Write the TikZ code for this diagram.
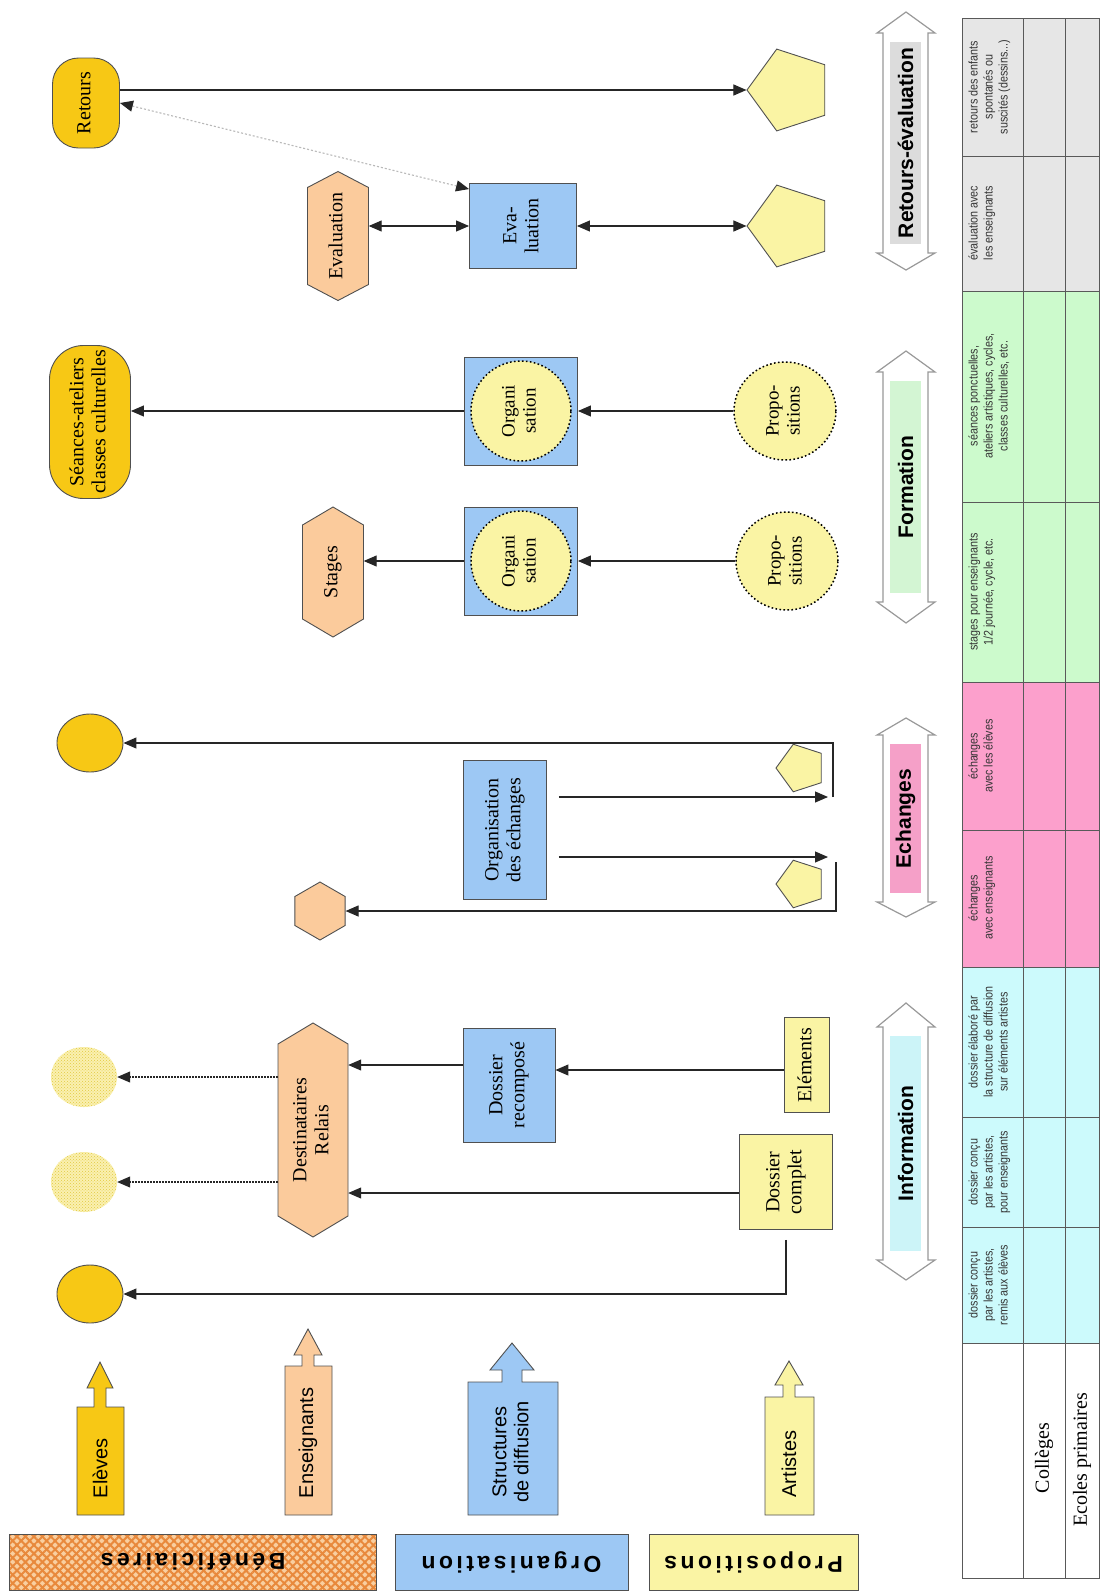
\documentclass[tikz,border=0pt]{standalone}
\usepackage{fontspec}
\setmainfont{Liberation Serif}
\setsansfont{Liberation Sans}
\newfontfamily\legfont{Liberation Sans}[LetterSpace=15]
\usepackage{graphicx}
\usetikzlibrary{shapes.geometric,arrows.meta,patterns,patterns.meta}

\definecolor{gold}{HTML}{F7C815}
\definecolor{peach}{HTML}{FBCB9C}
\definecolor{lblue}{HTML}{9DC8F4}
\definecolor{lyel}{HTML}{FAF4A4}
\definecolor{edge}{HTML}{505050}
\definecolor{tgrey}{HTML}{E6E6E6}
\definecolor{tgreen}{HTML}{CCFACC}
\definecolor{tpink}{HTML}{FCA0CC}
\definecolor{tcyan}{HTML}{CCFAFC}
\definecolor{bgrey}{HTML}{DCDCDC}
\definecolor{bgreen}{HTML}{D3F5D3}
\definecolor{bpink}{HTML}{F5A0C8}
\definecolor{bcyan}{HTML}{CCF4F8}
\definecolor{dotbg}{HTML}{FAF0B0}
\definecolor{dotfg}{HTML}{E2CA40}
\definecolor{bBase}{HTML}{F9CFA0}
\definecolor{bLine}{HTML}{E8893C}

\newcommand{\rotT}[1]{\rotatebox{90}{\begin{tabular}{@{}c@{}}#1\end{tabular}}}
\newcommand{\rotS}[1]{\rotatebox{90}{\scalebox{0.86}[1]{\begin{tabular}{@{}c@{}}#1\end{tabular}}}}

\tikzset{
  shp/.style={draw=edge, line width=0.9pt, inner sep=0pt, font=\fontsize{20}{22}\selectfont},
  bluebox/.style={shp, rectangle, fill=lblue},
  yelbox/.style={shp, rectangle, fill=lyel},
  goldell/.style={shp, ellipse, fill=gold, minimum width=66pt, minimum height=58pt},
  dotell/.style={ellipse, inner sep=0pt, minimum width=66pt, minimum height=60pt, preaction={fill=dotbg}, pattern=crosshatch dots, pattern color=dotfg},
  dotcirc/.style={shp, circle, draw=black, dash pattern=on 1.6pt off 2.4pt, line width=1.5pt, fill=lyel, font=\fontsize{19}{21}\selectfont},
  pent/.style={shp, regular polygon, regular polygon sides=5, shape border rotate=90, fill=lyel},
  hexfill/.style={draw=edge, line width=0.9pt, fill=peach},
  txt/.style={inner sep=0pt, font=\fontsize{20}{22}\selectfont},
  sanslab/.style={inner sep=0pt, font=\sffamily\fontsize{20}{22}\selectfont},
  dalab/.style={inner sep=0pt, font=\sffamily\bfseries\fontsize{21}{23}\selectfont},
  legbox/.style={draw=edge, line width=0.9pt, minimum height=56pt, inner sep=0pt, font=\legfont\bfseries\fontsize{23}{25}\selectfont},
  legarrow/.style={draw=edge, line width=0.9pt},
  conn/.style={draw=black!85, line width=1.1pt, -{Triangle[length=13pt,width=11pt]}},
  dconn/.style={draw=black!85, line width=1.1pt, {Triangle[length=13pt,width=11pt]}-{Triangle[length=13pt,width=11pt]}},
  dotconn/.style={conn, dash pattern=on 1.5pt off 1.5pt},
  greyconn/.style={draw=gray!55, line width=1.1pt, dash pattern=on 2pt off 2pt, {Triangle[length=13pt,width=11pt,color=black!85]}-{Triangle[length=13pt,width=11pt,color=black!85]}},
  tline/.style={draw=gray!70!black, line width=0.9pt},
  tcell/.style={anchor=west, inner sep=0pt, text=black!80, font=\sffamily\fontsize{12.5}{15}\selectfont},
  tbig/.style={inner sep=0pt, font=\fontsize{20}{22}\selectfont},
  dafr/.style={draw=gray!80, line width=1.2pt, fill=white}
}

\newcommand{\hexv}[7]{%
  \path[hexfill] ({#2-#4/2},{#3-#5/2+#6}) -- (#2,{#3-#5/2}) -- ({#2+#4/2},{#3-#5/2+#6}) -- ({#2+#4/2},{#3+#5/2-#6}) -- (#2,{#3+#5/2}) -- ({#2-#4/2},{#3+#5/2-#6}) -- cycle;
  \node[txt, minimum width=#4pt, minimum height=#5pt] (#1) at (#2,#3) {#7};}

\newcommand{\dblarr}[7]{%
  \path[dafr] (906,#2) -- (935,#3) -- (928,#3) -- (928,#4) -- (935,#4) -- (906,#5) -- (877,#4) -- (883,#4) -- (883,#3) -- (877,#3) -- cycle;
  \fill[#6] (890,{#3+9}) rectangle (921,{#4-9});
  \node[dalab] (#1) at (905.5,{(#3+#4)/2}) {\rotatebox{90}{#7}};}

\begin{document}
\begin{tikzpicture}[x=1pt,y=-1pt]
\useasboundingbox (0,0) rectangle (1104,1596);
\fill[white] (0,0) rectangle (1104,1596);

% ================= table
\fill[tgrey] (962,18) rectangle (1099,291);
\fill[tgreen] (962,291) rectangle (1099,682);
\fill[tpink] (962,682) rectangle (1099,967);
\fill[tcyan] (962,967) rectangle (1099,1343);
\draw[tline] (962,18) rectangle (1099,1578);
\foreach \yy in {156,291,502,682,830,967,1117,1227,1343} \draw[tline] (962,\yy) -- (1099,\yy);
\draw[tline] (1023,18) -- (1023,1578) (1065,18) -- (1065,1578);

\node[tcell] (c1) at (967,87) {\rotS{retours des enfants\\spontanés ou\\suscités (dessins...)}};
\node[tcell] (c2) at (967,223) {\rotS{évaluation avec\\les enseignants}};
\node[tcell] (c3) at (967,396) {\rotS{séances ponctuelles,\\ateliers artistiques, cycles,\\classes culturelles, etc.}};
\node[tcell] (c4) at (967,592) {\rotS{stages pour enseignants\\1/2 journée, cycle, etc.}};
\node[tcell] (c5) at (967,756) {\rotS{échanges\\avec les élèves}};
\node[tcell] (c6) at (967,898) {\rotS{échanges\\avec enseignants}};
\node[tcell] (c7) at (967,1042) {\rotS{dossier élaboré par\\la structure de diffusion\\sur éléments artistes}};
\node[tcell] (c8) at (967,1172) {\rotS{dossier conçu\\par les artistes,\\pour enseignants}};
\node[tcell] (c9) at (967,1285) {\rotS{dossier conçu\\par les artistes,\\remis aux élèves}};
\node[tbig] (colleges) at (1044,1458) {\rotatebox{90}{Collèges}};
\node[tbig] (ecoles) at (1082,1460) {\rotatebox{90}{Ecoles primaires}};

% ================= double arrows
\dblarr{daRet}{12}{33}{253}{270}{bgrey}{Retours-évaluation}
\dblarr{daForm}{351}{372}{602}{623}{bgreen}{Formation}
\dblarr{daEch}{718}{735}{902}{917}{bpink}{Echanges}
\dblarr{daInfo}{1003}{1027}{1260}{1280}{bcyan}{Information}

% ================= Retours-évaluation
\node[shp, fill=gold, rounded corners=26pt, minimum width=67pt, minimum height=90pt] (retours) at (86,103) {\rotT{Retours}};
\hexv{evalh}{338}{236}{61}{129}{16}{\rotT{Evaluation}}
\node[bluebox, minimum width=107pt, minimum height=85pt] (eva) at (523,226) {\rotT{Eva-\\luation}};
\node[pent, minimum size=86pt] (p1) at (790,90) {};
\node[pent, minimum size=86pt] (p2) at (790,226) {};
\draw[conn] (retours.east |- p1.west) -- (p1.west);
\draw[dconn] (evalh.east |- eva.west) -- (eva.west);
\draw[dconn] (eva.east) -- (p2.west);
\coordinate (evaNW) at ([yshift=-6pt]eva.north west);
\draw[greyconn] (retours.east) -- (evaNW);

% ================= Formation
\node[shp, fill=gold, rounded corners=34pt, minimum width=81pt, minimum height=153pt] (seances) at (90,422) {\rotT{Séances-ateliers\\classes culturelles}};
\hexv{stages}{333}{572}{61}{130}{18}{\rotT{Stages}}
\node[bluebox, minimum width=113pt, minimum height=108pt] (org1) at (521,411) {};
\node[dotcirc, minimum size=100pt] (orgc1) at (521,411) {\rotT{Organi\\sation}};
\node[bluebox, minimum width=113pt, minimum height=108pt] (org2) at (521,561) {};
\node[dotcirc, minimum size=100pt] (orgc2) at (521,561) {\rotT{Organi\\sation}};
\node[dotcirc, ellipse, minimum width=102pt, minimum height=98pt] (prop1) at (785,411) {\rotT{Propo-\\sitions}};
\node[dotcirc, ellipse, minimum width=102pt, minimum height=98pt] (prop2) at (787,561) {\rotT{Propo-\\sitions}};
\draw[conn] (prop1.west) -- (org1.east);
\draw[conn] (prop2.west) -- (org2.east);
\draw[conn] (org1.west) -- (seances.east |- org1.west);
\draw[conn] (org2.west) -- (stages.east |- org2.west);

% ================= Echanges
\node[goldell] (circE) at (90,743) {};
\node[shp, regular polygon, regular polygon sides=6, shape border rotate=30, minimum size=58pt, fill=peach] (hexE) at (320,911) {};
\node[bluebox, minimum width=83pt, minimum height=139pt] (orgE) at (505,830) {\rotT{Organisation\\des échanges}};
\node[pent, minimum size=50pt] (pe1) at (801,768) {};
\node[pent, minimum size=50pt] (pe2) at (801,884) {};
\coordinate (ea1) at (828,797);
\coordinate (ea2) at (828,857);
\coordinate (eb1) at (833,797);
\coordinate (eb2) at (836,862);
\coordinate (oeR) at ([xshift=12pt]orgE.east);
\draw[conn] (oeR |- ea1) -- (ea1);
\draw[conn] (oeR |- ea2) -- (ea2);
\draw[conn] (eb1) |- (circE.east);
\draw[conn] (eb2) |- (hexE.east);

% ================= Information
\node[goldell] (circI) at (90,1294) {};
\node[dotell] (dc1) at (84,1077) {};
\node[dotell] (dc2) at (84,1182) {};
\hexv{dest}{313}{1130}{70}{214}{21}{\rotT{Destinataires\\Relais}}
\node[bluebox, minimum width=92pt, minimum height=114pt] (drec) at (509,1085) {\rotT{Dossier\\recomposé}};
\node[yelbox, minimum width=45pt, minimum height=95pt] (elem) at (807,1065) {\rotT{Eléments}};
\node[yelbox, minimum width=93pt, minimum height=95pt] (dcomp) at (786,1182) {\rotT{Dossier\\complet}};
\coordinate (elA) at ([yshift=-5pt]elem.west);
\draw[conn] (elA) -- (drec.east |- elA);
\coordinate (drA) at ([yshift=20pt]drec.west);
\draw[conn] (drA) -- (dest.east |- drA);
\coordinate (dcA) at ([yshift=-11pt]dcomp.west);
\draw[conn] (dcA) -- (dest.east |- dcA);
\draw[dotconn] (dest.west |- dc1.east) -- (dc1.east);
\draw[dotconn] (dest.west |- dc2.east) -- (dc2.east);
\coordinate (dcB) at ([yshift=-10pt]dcomp.south);
\draw[conn] (dcB) |- (circI.east);

% ================= legend arrows
\path[legarrow, fill=gold] (77,1515) -- (77,1407) -- (94,1407) -- (94,1388) -- (87,1388) -- (100,1362) -- (113,1388) -- (106,1388) -- (106,1407) -- (124,1407) -- (124,1515) -- cycle;
\node[sanslab] (lElev) at (100,1468) {\rotatebox{90}{Elèves}};
\path[legarrow, fill=peach] (285,1515) -- (285,1366) -- (302,1366) -- (302,1355) -- (294,1355) -- (308,1329) -- (322,1355) -- (314,1355) -- (314,1366) -- (332,1366) -- (332,1515) -- cycle;
\node[sanslab] (lEns) at (308,1443) {\rotatebox{90}{Enseignants}};
\path[legarrow, fill=lblue] (468,1515) -- (468,1382) -- (502,1382) -- (502,1370) -- (490,1370) -- (512,1343) -- (534,1370) -- (522,1370) -- (522,1382) -- (558,1382) -- (558,1515) -- cycle;
\node[sanslab] (lStr) at (513,1452) {\rotT{Structures\\de diffusion}};
\path[legarrow, fill=lyel] (765,1515) -- (765,1397) -- (783,1397) -- (783,1385) -- (775,1385) -- (789,1361) -- (803,1385) -- (795,1385) -- (795,1397) -- (814,1397) -- (814,1515) -- cycle;
\node[sanslab] (lArt) at (789,1464) {\rotatebox{90}{Artistes}};

% ================= legend boxes
\node[legbox, minimum width=367pt, preaction={fill=bBase}, preaction={pattern={Lines[angle=45,distance=6pt,line width=2pt]}, pattern color=bLine}, pattern={Lines[angle=-45,distance=6pt,line width=2pt]}, pattern color=bLine] (bene) at (193,1562) {\rotatebox{180}{Bénéficiaires}};
\node[legbox, minimum width=233pt, fill=lblue] (orga) at (511.5,1562) {\rotatebox{180}{Organisation}};
\node[legbox, minimum width=209pt, fill=lyel] (propo) at (753.5,1562) {\rotatebox{180}{Propositions}};

\end{tikzpicture}
\end{document}
